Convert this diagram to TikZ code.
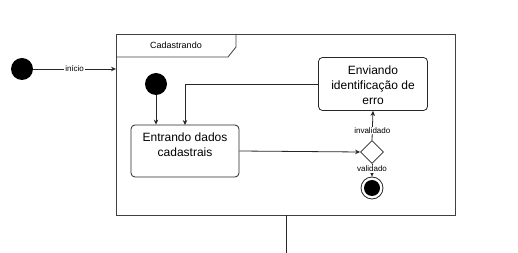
\documentclass[tikz,border=0pt]{standalone}
\usepackage{fontspec}
\setmainfont{Liberation Sans}
\usetikzlibrary{arrows.meta,shapes.geometric}
\begin{document}
\begin{tikzpicture}[x=1pt,y=-1pt,
  line/.style={draw=black!85, line width=0.8pt},
  flow/.style={line, -{Stealth[length=5pt,width=4.5pt]}},
  start/.style={circle, fill=black, minimum size=22pt, inner sep=0pt},
  activity/.style={line, rounded corners=4pt, inner sep=0pt},
  caption/.style={align=center, font=\fontsize{12}{15}\selectfont, inner sep=0pt},
  choice/.style={line, diamond, fill=white, minimum size=23pt, inner sep=0pt},
  lbl/.style={font=\fontsize{8}{9}\selectfont, fill=white, inner sep=1pt}]
\useasboundingbox (0,0) rectangle (518,253);

% composite state frame and its name tab
\draw[line, draw=black!75] (116,34) rectangle (455,215);
\draw[line, draw=black!75] (116,57) -- (228,57) -- (236,47) -- (236,34);
\node[font=\fontsize{9}{10}\selectfont] (title) at (176,45) {Cadastrando};

% outer initial state
\node[start] (init) at (22,69) {};
\coordinate (entry) at (116,69);
\draw[flow] (init) -- node[lbl] {início} (entry);

% inner states
\node[start] (init2) at (156,84) {};
\node[activity, minimum width=108pt, minimum height=52pt] (entrando) at (185,151) {};
\node[caption] (entrandoText) at (185,145) {Entrando dados\\cadastrais};
\node[activity, minimum width=109pt, minimum height=53pt] (enviando) at (373,84) {};
\node[caption] (enviandoText) at (373,85) {Enviando\\identificação de\\erro};
\node[choice] (dec) at (372,152) {};
\node[circle, line, minimum size=22pt, inner sep=0pt] (final) at (372,188) {};
\node[circle, fill=black, minimum size=16pt, inner sep=0pt] (finaldot) at (final) {};

% transitions
\draw[flow] (init2) -- (init2 |- entrando.north);
\draw[flow] (enviando.west) -| (185,125);
\draw[flow] (entrando.east) -- (dec.west);
\draw[flow] (dec.north) -- node[lbl, pos=0.33] {invalidado} (enviando.south);
\draw[flow] (dec.south) -- node[lbl, pos=0.4] {validado} (final.north);

% outgoing line below the frame
\coordinate (exitTop) at (286,215);
\coordinate (exitEnd) at (286,253);
\draw[line] (exitTop) -- (exitEnd);
\end{tikzpicture}
\end{document}
